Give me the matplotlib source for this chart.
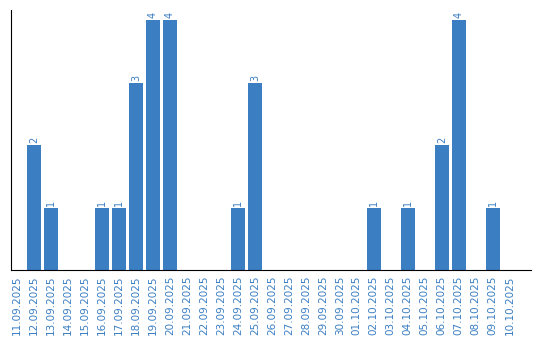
import matplotlib
matplotlib.use("Agg")
import matplotlib.pyplot as plt
import numpy as np

dates = [
    "11.09.2025", "12.09.2025", "13.09.2025", "14.09.2025", "15.09.2025",
    "16.09.2025", "17.09.2025", "18.09.2025", "19.09.2025", "20.09.2025",
    "21.09.2025", "22.09.2025", "23.09.2025", "24.09.2025", "25.09.2025",
    "26.09.2025", "27.09.2025", "28.09.2025", "29.09.2025", "30.09.2025",
    "01.10.2025", "02.10.2025", "03.10.2025", "04.10.2025", "05.10.2025",
    "06.10.2025", "07.10.2025", "08.10.2025", "09.10.2025", "10.10.2025",
]
counts = [0, 2, 1, 0, 0, 1, 1, 3, 4, 4,
          0, 0, 0, 1, 3, 0, 0, 0, 0, 0,
          0, 1, 0, 1, 0, 2, 4, 0, 1, 0]

BLUE = "#3b7ec2"

fig = plt.figure(figsize=(5.4, 3.4), dpi=100)
ax = fig.add_axes([0.0195, 0.205, 0.963, 0.765])

xs = np.arange(len(dates))
ax.bar(xs, counts, width=0.82, color=BLUE)
for x, c in zip(xs, counts):
    if c > 0:
        ax.text(x, c + 0.03, str(c), rotation=90, ha="center", va="bottom",
                color=BLUE, fontsize=7)

# the plot area runs on a bit past the last day
ax.set_xlim(-0.38, len(dates) + 0.22)
ax.set_ylim(0, 4.16)
ax.set_xticks(xs)
ax.set_xticklabels(dates, rotation=90, fontsize=7.5, color=BLUE)
ax.tick_params(axis="x", length=0, pad=4)
ax.set_yticks([])
for side in ("top", "right"):
    ax.spines[side].set_visible(False)

fig.savefig("out.png", dpi=100)
